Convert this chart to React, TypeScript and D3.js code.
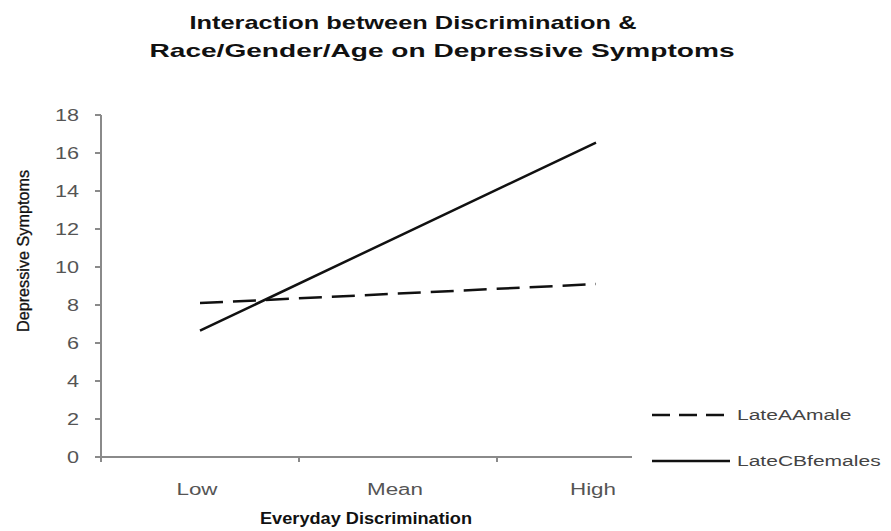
import React, { useRef, useEffect } from "react";
import * as d3 from "d3";

const categories = ["Low", "Mean", "High"];
const lateAAmale = [8.1, 8.6, 9.1];
const lateCBfemales = [6.65, 11.6, 16.55];
const yTicks = [0, 2, 4, 6, 8, 10, 12, 14, 16, 18];

const W = 891;
const H = 531;
const FONT = "Liberation Sans, Arial, sans-serif";

const App: React.FC = () => {
  const svgRef = useRef<SVGSVGElement>(null);

  useEffect(() => {
    if (!svgRef.current) return;
    const svg = d3.select(svgRef.current);
    svg.selectAll("*").remove();

    const x = d3.scaleBand<string>().domain(categories).range([101, 695]);
    const y = d3.scaleLinear().domain([0, 18]).range([457, 115]);
    const axisEnd = 632;

    // the source image is stretched sideways, so text gets a horizontal scale
    const stretched = (
      tx: number,
      ty: number,
      sx: number,
      txt: string,
      size: number,
      anchor: string,
      fill: string
    ) =>
      svg
        .append("text")
        .attr("transform", `translate(${tx},${ty}) scale(${sx},1)`)
        .attr("text-anchor", anchor)
        .attr("font-family", FONT)
        .attr("font-size", size)
        .attr("fill", fill)
        .text(txt);

    // title
    const titleLines = [
      { text: "Interaction between Discrimination &", cx: 413, y: 29, len: 447 },
      { text: "Race/Gender/Age on Depressive Symptoms", cx: 442, y: 57, len: 585 },
    ];
    titleLines.forEach((t) => {
      svg
        .append("text")
        .attr("x", t.cx)
        .attr("y", t.y)
        .attr("text-anchor", "middle")
        .attr("font-family", FONT)
        .attr("font-weight", "bold")
        .attr("font-size", 19)
        .attr("fill", "#111")
        .attr("textLength", t.len)
        .attr("lengthAdjust", "spacingAndGlyphs")
        .text(t.text);
    });

    const axisColor = "#8a8a8a";

    // y axis
    svg
      .append("line")
      .attr("x1", x.range()[0])
      .attr("x2", x.range()[0])
      .attr("y1", y(18))
      .attr("y2", y(0) + 5)
      .attr("stroke", axisColor)
      .attr("stroke-width", 2);
    yTicks.forEach((v) => {
      svg
        .append("line")
        .attr("x1", x.range()[0] - 6)
        .attr("x2", x.range()[0])
        .attr("y1", y(v))
        .attr("y2", y(v))
        .attr("stroke", axisColor)
        .attr("stroke-width", 2);
      stretched(79, y(v) + 6, 1.35, String(v), 16, "end", "#555");
    });

    // x axis
    svg
      .append("line")
      .attr("x1", x.range()[0] - 6)
      .attr("x2", axisEnd)
      .attr("y1", y(0))
      .attr("y2", y(0))
      .attr("stroke", axisColor)
      .attr("stroke-width", 2);
    categories.slice(1).forEach((c) => {
      svg
        .append("line")
        .attr("x1", x(c)!)
        .attr("x2", x(c)!)
        .attr("y1", y(0))
        .attr("y2", y(0) + 5)
        .attr("stroke", axisColor)
        .attr("stroke-width", 2);
    });
    categories.forEach((c) => {
      stretched(x(c)! + x.bandwidth() / 2 - 3, 495, 1.4, c, 16, "middle", "#555");
    });

    // axis titles
    svg
      .append("text")
      .attr("x", 366)
      .attr("y", 524)
      .attr("text-anchor", "middle")
      .attr("font-family", FONT)
      .attr("font-weight", "bold")
      .attr("font-size", 16)
      .attr("fill", "#111")
      .attr("textLength", 212)
      .attr("lengthAdjust", "spacingAndGlyphs")
      .text("Everyday Discrimination");
    svg
      .append("text")
      .attr("transform", "translate(29,251) rotate(-90)")
      .attr("text-anchor", "middle")
      .attr("font-family", FONT)
      .attr("font-size", 16)
      .attr("fill", "#111")
      .attr("stroke", "#111")
      .attr("stroke-width", 0.3)
      .attr("textLength", 162)
      .attr("lengthAdjust", "spacingAndGlyphs")
      .text("Depressive Symptoms");

    // series
    const line = d3
      .line<number>()
      .x((_, i) => x(categories[i])! + x.bandwidth() / 2)
      .y((d) => y(d));

    const series = [
      { name: "LateAAmale", values: lateAAmale, dash: "23,10", ly: 415 },
      { name: "LateCBfemales", values: lateCBfemales, dash: null, ly: 461 },
    ];

    series.forEach((s) => {
      svg
        .append("path")
        .datum(s.values)
        .attr("fill", "none")
        .attr("stroke", "#111")
        .attr("stroke-width", 2.5)
        .attr("stroke-dasharray", s.dash)
        .attr("d", line);

      svg
        .append("line")
        .attr("x1", 652)
        .attr("x2", 730)
        .attr("y1", s.ly)
        .attr("y2", s.ly)
        .attr("stroke", "#111")
        .attr("stroke-width", 2.5)
        .attr("stroke-dasharray", s.dash ? "18,9" : null);
      stretched(737, s.ly + 5, 1.45, s.name, 14.5, "start", "#444");
    });
  }, []);

  return (
    <svg
      ref={svgRef}
      width={W}
      height={H}
      style={{ position: "absolute", left: 0, top: 0, background: "#fff" }}
    />
  );
};

export default App;
